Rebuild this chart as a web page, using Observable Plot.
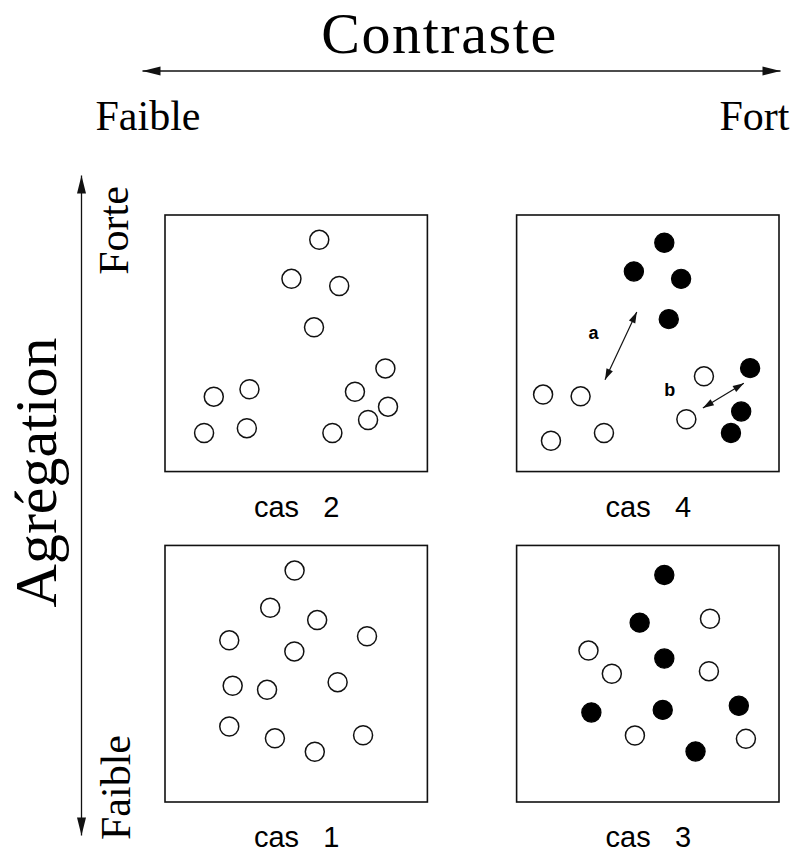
<!DOCTYPE html>
<html>
<head>
<meta charset="utf-8">
<script src="https://cdn.jsdelivr.net/npm/d3@7"></script>
<script src="https://cdn.jsdelivr.net/npm/@observablehq/plot@0.6"></script>
<style>
  html, body { margin: 0; padding: 0; background: #fff; }
</style>
</head>
<body>
<div id="chart"></div>
<script>
// ---------- DATA ----------
const titleText = "Contraste";
const contrastLabels = ["Faible", "Fort"];          // left → right
const aggregationTitle = "Agrégation";
const aggregationLabels = ["Faible", "Forte"];      // bottom → top

const panelNames = ["cas 1", "cas 2", "cas 3", "cas 4"];
const panelContrast = ["Faible", "Faible", "Fort", "Fort"];
const panelAggregation = ["Faible", "Forte", "Faible", "Forte"];

// point positions inside each square (0–100 both ways, y upward)
const cas1X = [49.2, 39.9, 57.8, 76.8, 24.3, 49.1, 65.6, 25.6, 38.7, 24.3, 41.7, 75.3, 56.9];
const cas1Y = [90.4, 75.9, 71.1, 64.8, 63.2, 58.9, 46.9, 45.5, 43.9, 29.6, 25.0, 26.2, 19.8];
const cas1Filled = [0, 0, 0, 0, 0, 0, 0, 0, 0, 0, 0, 0, 0];

const cas2X = [58.6, 48.0, 66.2, 56.6, 83.8, 72.2, 84.8, 77.2, 63.6, 32.0, 18.4, 31.0, 14.7];
const cas2Y = [90.5, 75.3, 72.5, 56.4, 40.4, 31.3, 25.5, 20.3, 15.2, 32.3, 29.4, 17.1, 15.2];
const cas2Filled = [0, 0, 0, 0, 0, 0, 0, 0, 0, 0, 0, 0, 0];

const cas3X = [56.1, 46.7, 56.1, 28.3, 55.5, 84.5, 68.0, 73.5, 27.2, 36.1, 73.1, 44.9, 87.2];
const cas3Y = [88.7, 70.1, 56.1, 35.1, 36.1, 37.7, 19.9, 71.6, 59.2, 50.2, 51.2, 26.1, 24.8];
const cas3Filled = [1, 1, 1, 1, 1, 1, 1, 0, 0, 0, 0, 0, 0];

const cas4X = [56.1, 44.5, 62.5, 57.8, 88.8, 85.4, 81.5, 9.9, 24.2, 12.9, 33.1, 71.2, 64.5];
const cas4Y = [89.4, 78.2, 75.3, 59.6, 40.5, 23.6, 15.2, 30.2, 29.5, 12.2, 15.2, 37.3, 20.6];
const cas4Filled = [1, 1, 1, 1, 1, 1, 1, 0, 0, 0, 0, 0, 0];

// distance arrows in "cas 4"
const distPanel = "cas 4";
const distLabels = ["a", "b"];
const distFromX = [45.6, 86.4];
const distFromY = [62.4, 34.6];
const distToX = [33.5, 70.8];
const distToY = [36.0, 25.0];
const distLabelX = [29.1, 58.2];
const distLabelY = [54.0, 31.8];

// ---------- LAYOUT ----------
const W = 100, GAPX = 34, GAPY = 28.8;
const serif = "Liberation Serif, Times New Roman, serif";
const sans = "Liberation Sans, Arial, Helvetica, sans-serif";
const frameL = 165, frameR = 779, frameT = 215, frameB = 802;
const X = d3.scaleLinear([0, 2 * W + GAPX], [frameL, frameR]);
const Y = d3.scaleLinear([0, 2 * W + GAPY], [frameB, frameT]);

const panelIndex = name => panelNames.indexOf(name);
const colOff = name => contrastLabels.indexOf(panelContrast[panelIndex(name)]) * (W + GAPX);
const rowOff = name => aggregationLabels.indexOf(panelAggregation[panelIndex(name)]) * (W + GAPY);

const sets = {
  "cas 1": [cas1X, cas1Y, cas1Filled],
  "cas 2": [cas2X, cas2Y, cas2Filled],
  "cas 3": [cas3X, cas3Y, cas3Filled],
  "cas 4": [cas4X, cas4Y, cas4Filled]
};
const points = [];
for (const name of panelNames) {
  const [xs, ys, fs] = sets[name];
  xs.forEach((u, i) => points.push({panel: name, x: colOff(name) + u, y: rowOff(name) + ys[i], filled: fs[i] === 1}));
}
const panels = panelNames.map(name => ({
  name, label: name.replace(" ", "\u00a0\u00a0\u00a0"),
  x1: colOff(name), x2: colOff(name) + W, y1: rowOff(name), y2: rowOff(name) + W,
  cx: colOff(name) + W / 2, ly: rowOff(name) - 17.4
}));

// distance arrows (double-headed)
const dists = distLabels.map((lab, i) => ({
  label: lab,
  x1: colOff(distPanel) + distFromX[i], y1: rowOff(distPanel) + distFromY[i],
  x2: colOff(distPanel) + distToX[i], y2: rowOff(distPanel) + distToY[i],
  lx: colOff(distPanel) + distLabelX[i], ly: rowOff(distPanel) + distLabelY[i]
}));
const angleOf = (xa, ya, xb, yb) => {
  const dx = X(xb) - X(xa), dy = Y(yb) - Y(ya);
  return Math.atan2(dx, -dy) * 180 / Math.PI;
};
const smallHeads = [];
dists.forEach(d => {
  smallHeads.push({x: d.x1, y: d.y1, angle: angleOf(d.x2, d.y2, d.x1, d.y1)});
  smallHeads.push({x: d.x2, y: d.y2, angle: angleOf(d.x1, d.y1, d.x2, d.y2)});
});

// big axis arrows
const hArrow = {x1: X.invert(142), x2: X.invert(780), y: Y.invert(70.5)};
const vArrow = {x: X.invert(81), y1: Y.invert(175), y2: Y.invert(835)};
const bigHeads = [
  {x: hArrow.x1, y: hArrow.y, angle: -90},
  {x: hArrow.x2, y: hArrow.y, angle: 90},
  {x: vArrow.x, y: vArrow.y1, angle: 0},
  {x: vArrow.x, y: vArrow.y2, angle: 180}
];

const headSymbol = (len, half) => ({
  draw(ctx) { ctx.moveTo(0, 0); ctx.lineTo(half, len); ctx.lineTo(-half, len); ctx.closePath(); }
});

const topTexts = [
  {text: contrastLabels[0], x: X.invert(95), y: Y.invert(129), anchor: "start"},
  {text: contrastLabels[1], x: X.invert(789), y: Y.invert(129), anchor: "end"}
];
const sideTexts = [
  {text: aggregationLabels[1], x: X.invert(127), y: Y.invert(230)},
  {text: aggregationLabels[0], x: X.invert(129), y: Y.invert(787)}
];

const chart = Plot.plot({
  width: 793,
  height: 852,
  marginLeft: frameL, marginRight: 793 - frameR,
  marginTop: frameT, marginBottom: 852 - frameB,
  x: {domain: X.domain(), range: X.range(), axis: null},
  y: {domain: Y.domain(), range: Y.range(), axis: null},
  style: {background: "white", overflow: "visible"},
  marks: [
    Plot.rect(panels, {x1: "x1", x2: "x2", y1: "y1", y2: "y2", fill: "none", stroke: "#111", strokeWidth: 1.6}),
    Plot.dot(points.filter(d => !d.filled), {x: "x", y: "y", r: 9.5, fill: "white", stroke: "#111", strokeWidth: 1.5}),
    Plot.dot(points.filter(d => d.filled), {x: "x", y: "y", r: 9.6, fill: "black", stroke: "black", strokeWidth: 1.2}),
    Plot.text(panels, {x: "cx", y: "ly", text: "label", fontFamily: sans, fontSize: 29, fill: "black", textAnchor: "middle", lineAnchor: "bottom"}),
    // distance arrows a, b
    Plot.link(dists, {x1: "x1", y1: "y1", x2: "x2", y2: "y2", stroke: "#111", strokeWidth: 1.2}),
    Plot.dot(smallHeads, {x: "x", y: "y", rotate: "angle", symbol: headSymbol(11, 3.5), fill: "#111", stroke: "none"}),
    Plot.text(dists, {x: "lx", y: "ly", text: "label", fontFamily: sans, fontWeight: "bold", fontSize: 18, fill: "black"}),
    // contraste axis
    Plot.link([hArrow], {x1: "x1", x2: "x2", y1: "y", y2: "y", stroke: "#111", strokeWidth: 1.3}),
    Plot.link([vArrow], {x1: "x", x2: "x", y1: "y1", y2: "y2", stroke: "#111", strokeWidth: 1.3}),
    Plot.dot(bigHeads, {x: "x", y: "y", rotate: "angle", symbol: headSymbol(18, 4.5), fill: "#111", stroke: "none"}),
    Plot.text([{text: titleText, x: X.invert(439), y: Y.invert(52.5)}], {x: "x", y: "y", text: "text", fontFamily: serif, fontSize: 58, fill: "black", textAnchor: "middle", lineAnchor: "bottom"}),
    Plot.text(topTexts.filter(d => d.anchor === "start"), {x: "x", y: "y", text: "text", fontFamily: serif, fontSize: 42, fill: "black", textAnchor: "start", lineAnchor: "bottom"}),
    Plot.text(topTexts.filter(d => d.anchor === "end"), {x: "x", y: "y", text: "text", fontFamily: serif, fontSize: 42, fill: "black", textAnchor: "end", lineAnchor: "bottom"}),
    Plot.text([{text: aggregationTitle, x: X.invert(55), y: Y.invert(472)}], {x: "x", y: "y", text: "text", rotate: -90, fontFamily: serif, fontSize: 60, fill: "black", textAnchor: "middle", lineAnchor: "bottom"}),
    Plot.text(sideTexts, {x: "x", y: "y", text: "text", rotate: -90, fontFamily: serif, fontSize: 42, fill: "black", textAnchor: "middle", lineAnchor: "bottom"})
  ]
});
// slightly widen the title to match the reference's wider typeface
chart.querySelectorAll("text").forEach(t => {
  if (t.textContent === titleText) t.style.letterSpacing = "1.6px";
});
document.getElementById("chart").append(chart);
</script>
</body>
</html>
